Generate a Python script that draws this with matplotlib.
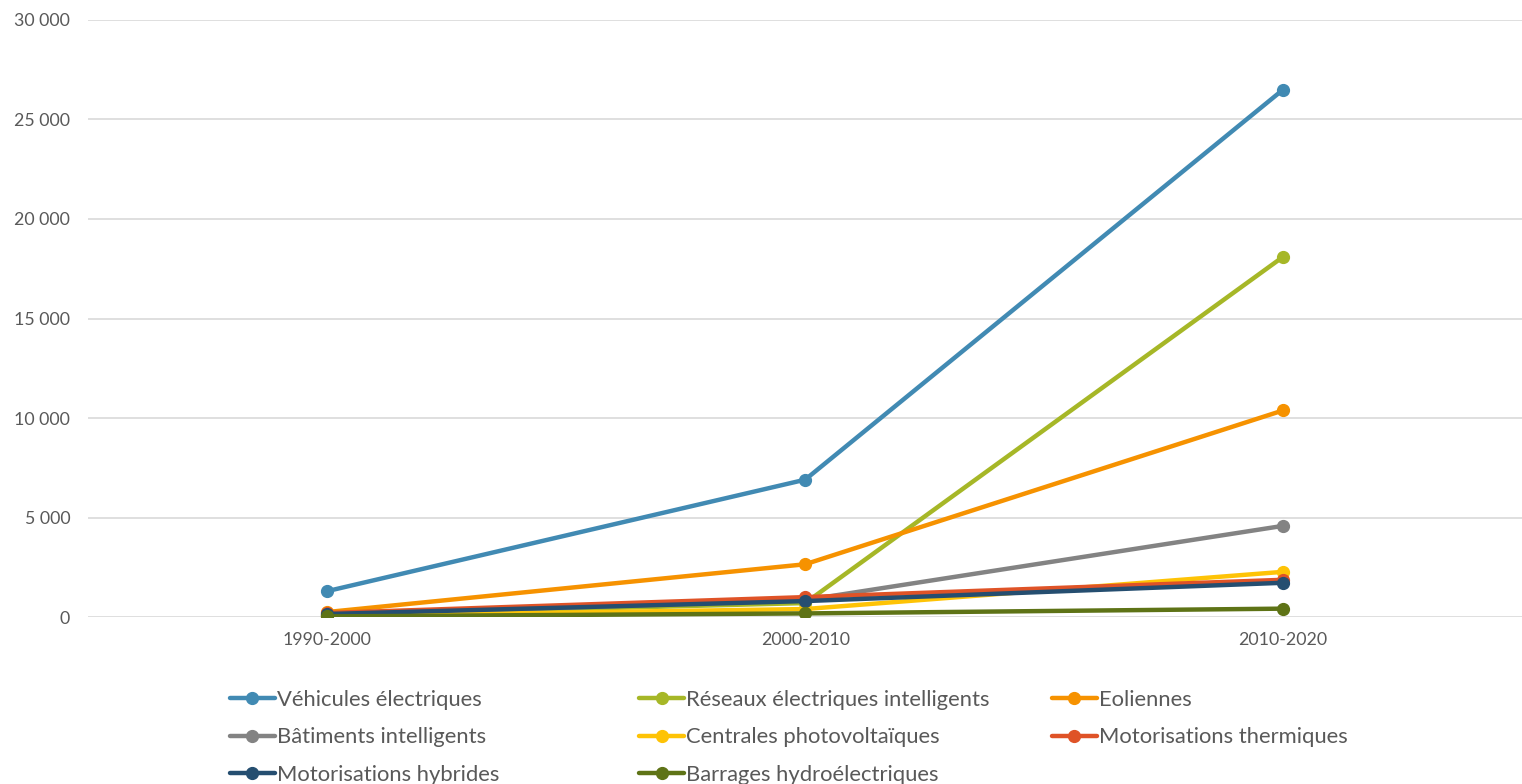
import matplotlib
matplotlib.use("Agg")
import matplotlib.pyplot as plt
from matplotlib.ticker import FuncFormatter

categories = ["1990-2000", "2000-2010", "2010-2020"]
vehicules = [1300, 6900, 26500]
reseaux = [100, 700, 18100]
eoliennes = [250, 2650, 10380]
batiments = [100, 850, 4580]
centrales = [50, 400, 2270]
thermiques = [200, 1000, 1870]
hybrides = [150, 800, 1720]
barrages = [30, 180, 420]

labels = ["Véhicules électriques", "Réseaux électriques intelligents", "Eoliennes",
          "Bâtiments intelligents", "Centrales photovoltaïques", "Motorisations thermiques",
          "Motorisations hybrides", "Barrages hydroélectriques"]
series = [vehicules, reseaux, eoliennes, batiments, centrales, thermiques, hybrides, barrages]
colors = ["#418AB3", "#A6B727", "#F69200", "#838383", "#FEC306", "#DF5327", "#254E70", "#5E7316"]

plt.rcParams['font.family'] = ['Lato', 'DejaVu Sans']

fig = plt.figure(figsize=(15.22, 7.84), dpi=100)
ax = fig.add_axes([0.058, 0.213, 0.942, 0.7615])

x = list(range(len(categories)))
handles = []
for i in range(len(series)):
    h, = ax.plot(x, series[i], color=colors[i], lw=3.2, marker='o', markersize=8.5,
                 solid_capstyle='round', zorder=3 + i * 0.1)
    handles.append(h)

ax.set_xlim(-0.5, 2.5)
ax.set_ylim(0, 30000)
ax.set_yticks(range(0, 30001, 5000))
ax.yaxis.set_major_formatter(FuncFormatter(lambda v, p: f"{int(v):,}".replace(",", " ")))
ax.set_xticks(x)
ax.set_xticklabels(categories)
ax.grid(axis='y', color='#D9D9D9', lw=1.2)
ax.set_axisbelow(True)
for s in ax.spines.values():
    s.set_visible(False)
ax.tick_params(axis='both', length=0, labelsize=12.8, colors='#595959', pad=11)
ax.tick_params(axis='y', pad=13)

cols = [[0, 3, 6], [1, 4, 7], [2, 5]]
xpos = [0.151, 0.420, 0.691]
for c, xp in zip(cols, xpos):
    leg = fig.legend([handles[k] for k in c], [labels[k] for k in c], loc='upper left',
                     bbox_to_anchor=(xp, 0.120), frameon=False, fontsize=15.8,
                     handlelength=2.05, handletextpad=0.1, labelspacing=0.8,
                     borderaxespad=0, borderpad=0)
    for t in leg.get_texts():
        t.set_color('#595959')

fig.savefig("out.png", dpi=100)
